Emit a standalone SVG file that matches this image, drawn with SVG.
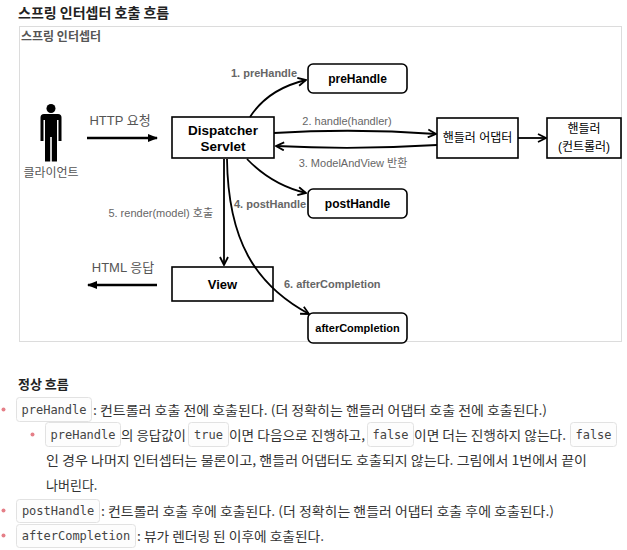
<svg xmlns="http://www.w3.org/2000/svg" width="627" height="550" viewBox="0 0 627 550">
<defs>
<style>
.title{font-family:"Noto Sans CJK KR","Noto Sans",sans-serif;font-weight:bold;fill:#222;}
.node{fill:#fff;stroke:#000;stroke-width:1.6;}
.lbl{font-family:"Liberation Sans","Noto Sans CJK KR",sans-serif;fill:#000;text-anchor:middle;}
.kr{font-family:"Liberation Sans","Noto Sans CJK KR",sans-serif;}
.elbl{font-family:"Liberation Sans","Noto Sans CJK KR",sans-serif;font-size:11px;fill:#666;}
.edge{fill:none;stroke:#000;stroke-width:1.8;}
.body{font-family:"Noto Sans CJK KR","Noto Sans",sans-serif;font-size:13px;fill:#333;}
.code{font-family:"DejaVu Sans Mono","Liberation Mono",monospace;font-size:12px;fill:#444;text-anchor:middle;}
.cbox{fill:#fdfdfd;stroke:#e2e2e2;stroke-width:1;}
.dot{fill:#e57f88;}
</style>
<marker id="open" viewBox="0 0 10 10" refX="9" refY="5" markerWidth="10" markerHeight="10" markerUnits="userSpaceOnUse" orient="auto">
<path d="M1,1 L9,5 L1,9" fill="none" stroke="#000" stroke-width="1.8" stroke-linejoin="miter"/>
</marker>
<marker id="block" viewBox="0 0 10 10" refX="9" refY="5" markerWidth="10" markerHeight="10" markerUnits="userSpaceOnUse" orient="auto">
<path d="M0,1 L10,5 L0,9 Z" fill="#000"/>
</marker>
</defs>
<rect width="627" height="550" fill="#fff"/>
<text class="title" x="18" y="18" font-size="14">스프링 인터셉터 호출 흐름</text>
<g id="frame">
<rect x="19.5" y="26.5" width="602" height="315" fill="#fff" stroke="#dcdcdc" stroke-width="1"/>
<text x="21" y="41" font-family="Noto Sans CJK KR, sans-serif" font-weight="bold" font-size="12" fill="#555">스프링 인터셉터</text>
</g>
<g id="client">
<circle cx="51" cy="108.5" r="4.5" fill="#000"/>
<path d="M44 114 H58 Q61.5 114 61.5 117.5 V141 H58.5 V120 H57 V161.5 H51.8 V137 H50.2 V161.5 H45 V120 H43.5 V141 H40.5 V117.5 Q40.5 114 44 114 Z" fill="#000"/>
<text class="kr" x="51" y="177" font-size="12" fill="#555" text-anchor="middle">클라이언트</text>
</g>
<g id="dispatcher">
<rect class="node" x="172" y="117" width="102" height="41"/>
<text class="lbl" x="223" y="135" font-size="13.5" font-weight="bold">Dispatcher</text>
<text class="lbl" x="223" y="151" font-size="13.5" font-weight="bold">Servlet</text>
</g>
<g id="preHandle">
<rect class="node" x="308" y="64" width="99" height="29" rx="5"/>
<text class="lbl" x="357.5" y="83" font-size="12" font-weight="bold">preHandle</text>
</g>
<g id="adapter">
<rect class="node" x="437" y="118" width="81" height="40"/>
<text class="lbl" x="477.5" y="142" font-size="12">핸들러 어댑터</text>
</g>
<g id="handler">
<rect class="node" x="547" y="118" width="74" height="40"/>
<text class="lbl" x="584" y="133" font-size="12">핸들러</text>
<text class="lbl" x="584" y="151" font-size="12">(컨트롤러)</text>
</g>
<g id="postHandle">
<rect class="node" x="308" y="189" width="99" height="29" rx="5"/>
<text class="lbl" x="357.5" y="208" font-size="12" font-weight="bold">postHandle</text>
</g>
<g id="view">
<rect class="node" x="172" y="267" width="101" height="34"/>
<text class="lbl" x="222.5" y="289" font-size="13" font-weight="bold">View</text>
</g>
<g id="afterCompletion">
<rect class="node" x="308" y="313" width="99" height="30" rx="5"/>
<text class="lbl" x="357.5" y="332" font-size="11" font-weight="bold">afterCompletion</text>
</g>
<g id="connectors">
<line x1="87" y1="138" x2="157" y2="138" stroke="#000" stroke-width="2.6" marker-end="url(#block)"/>
<text class="kr" x="120" y="125" font-size="13" fill="#555" text-anchor="middle">HTTP 요청</text>
<line x1="157" y1="285" x2="88" y2="285" stroke="#000" stroke-width="2.6" marker-end="url(#block)"/>
<text class="kr" x="123" y="272" font-size="13" fill="#555" text-anchor="middle">HTML 응답</text>
<path class="edge" d="M250 117 Q268 89 306 80" marker-end="url(#open)"/>
<text class="elbl" x="264" y="77" text-anchor="middle" font-weight="bold">1. preHandle</text>
<path class="edge" d="M274 133 Q355 128 436 134" marker-end="url(#open)"/>
<text class="elbl" x="347" y="125" text-anchor="middle">2. handle(handler)</text>
<path class="edge" d="M437 145 Q355 150 276 146" marker-end="url(#open)"/>
<text class="elbl" x="353" y="167" text-anchor="middle">3. ModelAndView 반환</text>
<path class="edge" d="M247 159 Q272 185 306 193" marker-end="url(#open)"/>
<text class="elbl" x="234" y="208" font-weight="bold">4. postHandle</text>
<path class="edge" d="M224 159 L224 265" marker-end="url(#open)"/>
<text class="elbl" x="213" y="217" text-anchor="end">5. render(model) 호출</text>
<path class="edge" d="M227 159 C228 240 255 285 309 314" marker-end="url(#open)"/>
<text class="elbl" x="284" y="288" font-weight="bold">6. afterCompletion</text>
<line class="edge" x1="518" y1="138" x2="546" y2="138" marker-end="url(#open)"/>
</g>
<g id="notes">
<text class="title" x="18" y="389" font-size="13">정상 흐름</text>
<circle class="dot" cx="3.5" cy="409.5" r="2"/>
<rect class="cbox" x="16.5" y="397.5" width="75" height="24" rx="3"/>
<text class="code" x="54" y="414">preHandle</text>
<text class="body" x="93" y="415" textLength="454" lengthAdjust="spacingAndGlyphs">: 컨트롤러 호출 전에 호출된다. (더 정확히는 핸들러 어댑터 호출 전에 호출된다.)</text>
<circle class="dot" cx="32.5" cy="434.5" r="2"/>
<rect class="cbox" x="45.5" y="422.5" width="75" height="24" rx="3"/>
<text class="code" x="83" y="439">preHandle</text>
<text class="body" x="121" y="440" textLength="65" lengthAdjust="spacingAndGlyphs">의 응답값이</text>
<rect class="cbox" x="188.5" y="422.5" width="40" height="24" rx="3"/>
<text class="code" x="208.5" y="439">true</text>
<text class="body" x="229" y="440" textLength="136" lengthAdjust="spacingAndGlyphs">이면 다음으로 진행하고,</text>
<rect class="cbox" x="367.5" y="422.5" width="46" height="24" rx="3"/>
<text class="code" x="390.5" y="439">false</text>
<text class="body" x="414" y="440" textLength="152" lengthAdjust="spacingAndGlyphs">이면 더는 진행하지 않는다.</text>
<rect class="cbox" x="570.5" y="422.5" width="46" height="24" rx="3"/>
<text class="code" x="593.5" y="439">false</text>
<text class="body" x="46" y="465" textLength="541" lengthAdjust="spacingAndGlyphs">인 경우 나머지 인터셉터는 물론이고, 핸들러 어댑터도 호출되지 않는다. 그림에서 1번에서 끝이</text>
<text class="body" x="46" y="490">나버린다.</text>
<circle class="dot" cx="3.5" cy="510.5" r="2"/>
<rect class="cbox" x="16.5" y="499.5" width="83" height="23" rx="3"/>
<text class="code" x="58" y="515">postHandle</text>
<text class="body" x="101" y="516" textLength="453" lengthAdjust="spacingAndGlyphs">: 컨트롤러 호출 후에 호출된다. (더 정확히는 핸들러 어댑터 호출 후에 호출된다.)</text>
<circle class="dot" cx="3.5" cy="535.5" r="2"/>
<rect class="cbox" x="16.5" y="524.5" width="119" height="23" rx="3"/>
<text class="code" x="76" y="540">afterCompletion</text>
<text class="body" x="137" y="541" textLength="187" lengthAdjust="spacingAndGlyphs">: 뷰가 렌더링 된 이후에 호출된다.</text>
</g>
</svg>
